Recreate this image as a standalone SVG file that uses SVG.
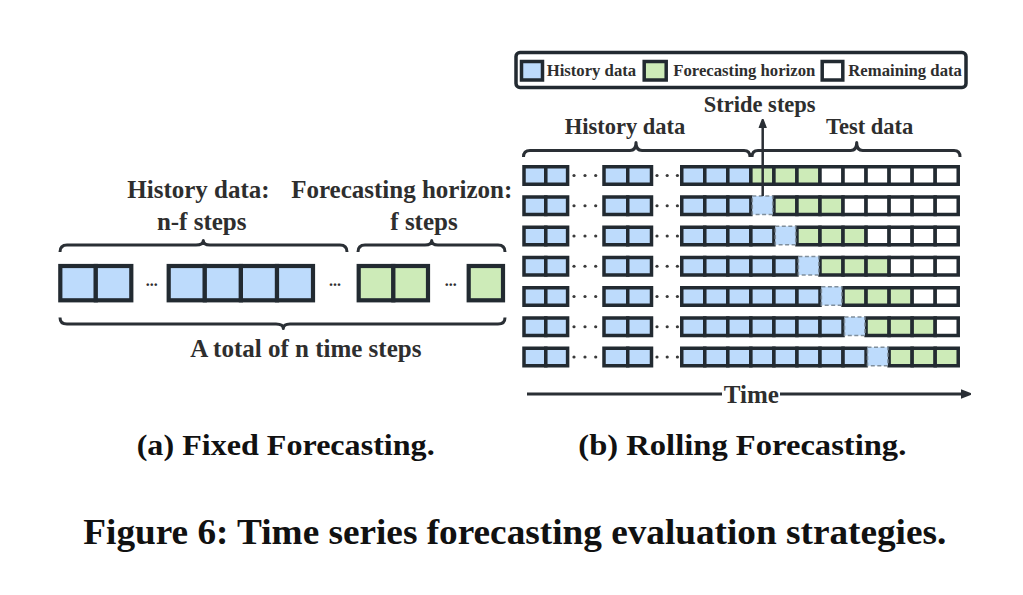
<svg xmlns="http://www.w3.org/2000/svg" xmlns:xlink="http://www.w3.org/1999/xlink" width="1023" height="595" viewBox="0 0 1023 595">
<style>
  .t{font-family:"Liberation Serif","Times New Roman",serif;font-weight:bold;fill:#2e2e2e}
  .cap{font-family:"Liberation Serif","Times New Roman",serif;font-weight:bold;fill:#111}
  .lb{fill:#bddbfc;stroke:#222a31;stroke-width:4.2}
  .lg{fill:#cdebb8;stroke:#222a31;stroke-width:4.2}
  .b{fill:#bddbfc;stroke:#222a31;stroke-width:3.5}
  .g{fill:#cdebb8;stroke:#222a31;stroke-width:3.5}
  .w{fill:#ffffff;stroke:#222a31;stroke-width:3.5}
  .d{fill:#bddbfc;stroke:#7f8e9c;stroke-width:1.5;stroke-dasharray:4 2.5}
  .br{fill:none;stroke:#2a2f35;stroke-width:3;stroke-linejoin:round}
  .dot{fill:#3a3a3a}
</style>
<defs>
  <marker id="ah" viewBox="0 0 10 10" refX="5" refY="5" markerWidth="3.6" markerHeight="3.6" orient="auto">
    <path d="M0,1.5 L9,5 L0,8.5 Z" fill="#2a2f35" stroke="#2a2f35" stroke-width="2" stroke-linejoin="round"/>
  </marker>
  <g id="pre">
    <rect class="b" x="524" y="0" width="21.8" height="17.5"/>
    <rect class="b" x="545.8" y="0" width="21.8" height="17.5"/>
    <circle class="dot" cx="574" cy="8.75" r="1.6"/>
    <circle class="dot" cx="585" cy="8.75" r="1.6"/>
    <circle class="dot" cx="595.7" cy="8.75" r="1.6"/>
    <rect class="b" x="604" y="0" width="23.75" height="17.5"/>
    <rect class="b" x="627.75" y="0" width="23.75" height="17.5"/>
    <circle class="dot" cx="657" cy="8.75" r="1.6"/>
    <circle class="dot" cx="667.2" cy="8.75" r="1.6"/>
    <circle class="dot" cx="677.4" cy="8.75" r="1.6"/>
  </g>
</defs>

<!-- (a) Fixed forecasting -->
<g id="fixed-labels">
  <text class="t" x="198.5" y="198" font-size="25" text-anchor="middle">History data:</text>
  <text class="t" x="201.7" y="230" font-size="25" text-anchor="middle">n-f steps</text>
  <text class="t" x="401.7" y="198" font-size="25" text-anchor="middle">Forecasting horizon:</text>
  <text class="t" x="424" y="230" font-size="25" text-anchor="middle">f steps</text>
  <text class="t" x="305.8" y="356.7" font-size="25" text-anchor="middle">A total of n time steps</text>
</g>
<g id="fixed-history">
  <rect class="lb" x="60.3" y="266" width="35.5" height="34.3"/>
  <rect class="lb" x="95.8" y="266" width="35.5" height="34.3"/>
  <text class="t" x="151.7" y="286" font-size="16" text-anchor="middle">...</text>
  <rect class="lb" x="168.7" y="266" width="36.1" height="34.3"/>
  <rect class="lb" x="204.8" y="266" width="36.1" height="34.3"/>
  <rect class="lb" x="240.9" y="266" width="36.1" height="34.3"/>
  <rect class="lb" x="277" y="266" width="36" height="34.3"/>
  <text class="t" x="335" y="286" font-size="16" text-anchor="middle">...</text>
</g>
<g id="fixed-horizon">
  <rect class="lg" x="358.7" y="266" width="34.65" height="34.3"/>
  <rect class="lg" x="393.35" y="266" width="34.65" height="34.3"/>
  <text class="t" x="450.7" y="286" font-size="16" text-anchor="middle">...</text>
  <rect class="lg" x="468.7" y="266" width="34.3" height="34.3"/>
</g>
<g id="fixed-braces">
  <path class="br" d="M60,252 Q60,245 67,245 L196,245 Q203.3,245 203.3,240.5 Q203.3,245 210,245 L340,245 Q347,245 347,252"/>
  <path class="br" d="M358,252 Q358,245 365,245 L425,245 Q431.7,245 431.7,240.5 Q431.7,245 438,245 L498,245 Q505,245 505,252"/>
  <path class="br" d="M60,317.5 Q60,324 67,324 L276,324 Q283.3,324 283.3,328.5 Q283.3,324 290,324 L498,324 Q505,324 505,317.5"/>
</g>

<!-- (b) Rolling forecasting -->
<g id="legend">
  <rect x="516" y="52.5" width="450" height="35" rx="4" fill="#fff" stroke="#222a31" stroke-width="3.5"/>
  <rect class="b" x="521.5" y="61.5" width="21" height="18.5"/>
  <text class="t" x="546.7" y="75.7" font-size="16.7">History data</text>
  <rect class="g" x="644.2" y="61.5" width="22" height="18.5"/>
  <text class="t" x="673.3" y="75.7" font-size="16.7">Forecasting horizon</text>
  <rect class="w" x="822.2" y="61.5" width="20.6" height="18.5"/>
  <text class="t" x="848.3" y="75.7" font-size="16.7">Remaining data</text>
</g>
<g id="rolling-labels">
  <text class="t" x="759.7" y="111.7" font-size="22.5" text-anchor="middle">Stride steps</text>
  <text class="t" x="625" y="134.3" font-size="22.5" text-anchor="middle">History data</text>
  <text class="t" x="869.7" y="134.3" font-size="22.5" text-anchor="middle">Test data</text>
</g>
<g id="rolling-braces">
  <path class="br" d="M523.5,157 Q523.5,150.5 530,150.5 L630,150.5 Q636,150.5 636,142.5 Q636,150.5 642,150.5 L744,150.5 Q750,150.5 750,157"/>
  <path class="br" d="M752,157 Q752,150.5 758,150.5 L850.7,150.5 Q856.7,150.5 856.7,142.5 Q856.7,150.5 862.7,150.5 L954,150.5 Q960,150.5 960,157"/>
</g>

<g id="row1" transform="translate(0,166.75)">
  <use href="#pre" xlink:href="#pre"/>
  <rect class="b" x="681.75" y="0" width="23.04" height="17.5"/>
  <rect class="b" x="704.79" y="0" width="23.04" height="17.5"/>
  <rect class="b" x="727.83" y="0" width="23.04" height="17.5"/>
  <rect class="g" x="750.87" y="0" width="23.04" height="17.5"/>
  <rect class="g" x="773.91" y="0" width="23.04" height="17.5"/>
  <rect class="g" x="796.95" y="0" width="23.04" height="17.5"/>
  <rect class="w" x="819.99" y="0" width="23.04" height="17.5"/>
  <rect class="w" x="843.03" y="0" width="23.04" height="17.5"/>
  <rect class="w" x="866.07" y="0" width="23.04" height="17.5"/>
  <rect class="w" x="889.11" y="0" width="23.04" height="17.5"/>
  <rect class="w" x="912.15" y="0" width="23.04" height="17.5"/>
  <rect class="w" x="935.19" y="0" width="23.04" height="17.5"/>
</g>
<g id="row2" transform="translate(0,197)">
  <use href="#pre" xlink:href="#pre"/>
  <rect class="b" x="681.75" y="0" width="23.04" height="17.5"/>
  <rect class="b" x="704.79" y="0" width="23.04" height="17.5"/>
  <rect class="b" x="727.83" y="0" width="23.04" height="17.5"/>
  <rect class="g" x="773.91" y="0" width="23.04" height="17.5"/>
  <rect class="g" x="796.95" y="0" width="23.04" height="17.5"/>
  <rect class="g" x="819.99" y="0" width="23.04" height="17.5"/>
  <rect class="w" x="843.03" y="0" width="23.04" height="17.5"/>
  <rect class="w" x="866.07" y="0" width="23.04" height="17.5"/>
  <rect class="w" x="889.11" y="0" width="23.04" height="17.5"/>
  <rect class="w" x="912.15" y="0" width="23.04" height="17.5"/>
  <rect class="w" x="935.19" y="0" width="23.04" height="17.5"/>
  <rect class="d" x="752.3" y="-1" width="20.4" height="18.5"/>
</g>
<g id="row3" transform="translate(0,227.25)">
  <use href="#pre" xlink:href="#pre"/>
  <rect class="b" x="681.75" y="0" width="23.04" height="17.5"/>
  <rect class="b" x="704.79" y="0" width="23.04" height="17.5"/>
  <rect class="b" x="727.83" y="0" width="23.04" height="17.5"/>
  <rect class="b" x="750.87" y="0" width="23.04" height="17.5"/>
  <rect class="g" x="796.95" y="0" width="23.04" height="17.5"/>
  <rect class="g" x="819.99" y="0" width="23.04" height="17.5"/>
  <rect class="g" x="843.03" y="0" width="23.04" height="17.5"/>
  <rect class="w" x="866.07" y="0" width="23.04" height="17.5"/>
  <rect class="w" x="889.11" y="0" width="23.04" height="17.5"/>
  <rect class="w" x="912.15" y="0" width="23.04" height="17.5"/>
  <rect class="w" x="935.19" y="0" width="23.04" height="17.5"/>
  <rect class="d" x="775.3" y="-1" width="20.4" height="18.5"/>
</g>
<g id="row4" transform="translate(0,257.5)">
  <use href="#pre" xlink:href="#pre"/>
  <rect class="b" x="681.75" y="0" width="23.04" height="17.5"/>
  <rect class="b" x="704.79" y="0" width="23.04" height="17.5"/>
  <rect class="b" x="727.83" y="0" width="23.04" height="17.5"/>
  <rect class="b" x="750.87" y="0" width="23.04" height="17.5"/>
  <rect class="b" x="773.91" y="0" width="23.04" height="17.5"/>
  <rect class="g" x="819.99" y="0" width="23.04" height="17.5"/>
  <rect class="g" x="843.03" y="0" width="23.04" height="17.5"/>
  <rect class="g" x="866.07" y="0" width="23.04" height="17.5"/>
  <rect class="w" x="889.11" y="0" width="23.04" height="17.5"/>
  <rect class="w" x="912.15" y="0" width="23.04" height="17.5"/>
  <rect class="w" x="935.19" y="0" width="23.04" height="17.5"/>
  <rect class="d" x="798.4" y="-1" width="20.4" height="18.5"/>
</g>
<g id="row5" transform="translate(0,287.75)">
  <use href="#pre" xlink:href="#pre"/>
  <rect class="b" x="681.75" y="0" width="23.04" height="17.5"/>
  <rect class="b" x="704.79" y="0" width="23.04" height="17.5"/>
  <rect class="b" x="727.83" y="0" width="23.04" height="17.5"/>
  <rect class="b" x="750.87" y="0" width="23.04" height="17.5"/>
  <rect class="b" x="773.91" y="0" width="23.04" height="17.5"/>
  <rect class="b" x="796.95" y="0" width="23.04" height="17.5"/>
  <rect class="g" x="843.03" y="0" width="23.04" height="17.5"/>
  <rect class="g" x="866.07" y="0" width="23.04" height="17.5"/>
  <rect class="g" x="889.11" y="0" width="23.04" height="17.5"/>
  <rect class="w" x="912.15" y="0" width="23.04" height="17.5"/>
  <rect class="w" x="935.19" y="0" width="23.04" height="17.5"/>
  <rect class="d" x="821.4" y="-1" width="20.4" height="18.5"/>
</g>
<g id="row6" transform="translate(0,318)">
  <use href="#pre" xlink:href="#pre"/>
  <rect class="b" x="681.75" y="0" width="23.04" height="17.5"/>
  <rect class="b" x="704.79" y="0" width="23.04" height="17.5"/>
  <rect class="b" x="727.83" y="0" width="23.04" height="17.5"/>
  <rect class="b" x="750.87" y="0" width="23.04" height="17.5"/>
  <rect class="b" x="773.91" y="0" width="23.04" height="17.5"/>
  <rect class="b" x="796.95" y="0" width="23.04" height="17.5"/>
  <rect class="b" x="819.99" y="0" width="23.04" height="17.5"/>
  <rect class="g" x="866.07" y="0" width="23.04" height="17.5"/>
  <rect class="g" x="889.11" y="0" width="23.04" height="17.5"/>
  <rect class="g" x="912.15" y="0" width="23.04" height="17.5"/>
  <rect class="w" x="935.19" y="0" width="23.04" height="17.5"/>
  <rect class="d" x="844.5" y="-1" width="20.4" height="18.5"/>
</g>
<g id="row7" transform="translate(0,348.25)">
  <use href="#pre" xlink:href="#pre"/>
  <rect class="b" x="681.75" y="0" width="23.04" height="17.5"/>
  <rect class="b" x="704.79" y="0" width="23.04" height="17.5"/>
  <rect class="b" x="727.83" y="0" width="23.04" height="17.5"/>
  <rect class="b" x="750.87" y="0" width="23.04" height="17.5"/>
  <rect class="b" x="773.91" y="0" width="23.04" height="17.5"/>
  <rect class="b" x="796.95" y="0" width="23.04" height="17.5"/>
  <rect class="b" x="819.99" y="0" width="23.04" height="17.5"/>
  <rect class="b" x="843.03" y="0" width="23.04" height="17.5"/>
  <rect class="g" x="889.11" y="0" width="23.04" height="17.5"/>
  <rect class="g" x="912.15" y="0" width="23.04" height="17.5"/>
  <rect class="g" x="935.19" y="0" width="23.04" height="17.5"/>
  <rect class="d" x="867.5" y="-1" width="20.4" height="18.5"/>
</g>

<g id="connectors">
  <line x1="762.7" y1="196" x2="762.7" y2="123" stroke="#2a2f35" stroke-width="2.5" marker-end="url(#ah)"/>
  <line x1="527" y1="394" x2="966" y2="394" stroke="#2a2f35" stroke-width="3" marker-end="url(#ah)"/>
</g>
<g id="time-label">
  <rect x="722" y="384" width="58" height="18" fill="#fff"/>
  <text class="t" x="751.3" y="403" font-size="25" text-anchor="middle">Time</text>
</g>

<g id="captions">
  <text class="cap" x="136.7" y="455" font-size="30" textLength="298" lengthAdjust="spacingAndGlyphs">(a) Fixed Forecasting.</text>
  <text class="cap" x="578.3" y="455" font-size="30" textLength="328" lengthAdjust="spacingAndGlyphs">(b) Rolling Forecasting.</text>
  <text class="cap" x="83.3" y="544.3" font-size="35" textLength="863" lengthAdjust="spacingAndGlyphs">Figure 6: Time series forecasting evaluation strategies.</text>
</g>
</svg>
